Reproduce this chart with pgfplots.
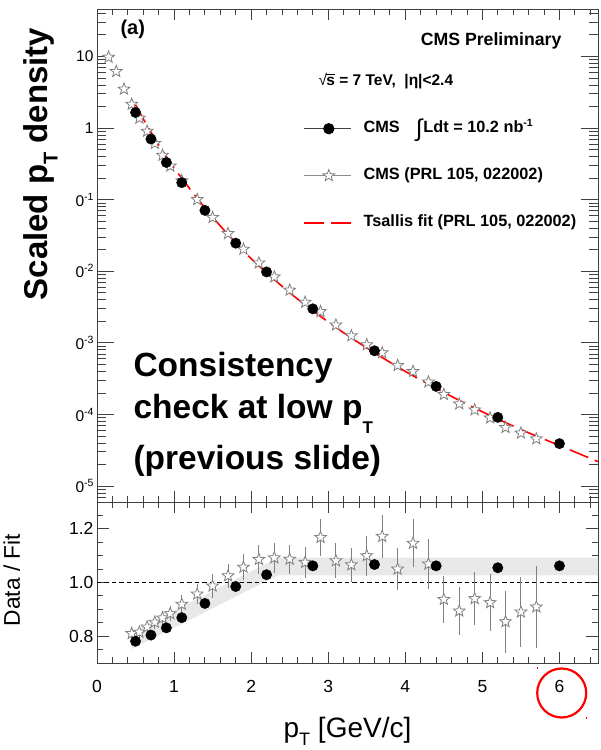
\documentclass[border=0pt]{standalone}
\usepackage{fontspec}
\setmainfont{Liberation Sans}
\usepackage{pgfplots}
\pgfplotsset{compat=1.18}

% font size shortcut (1pt in the drawing = 1px of the final image)
\newcommand{\fs}[1]{\fontsize{#1}{#1}\selectfont}
% raised / lowered small text: {size}{shift}{text}
\newcommand{\up}[3]{\raisebox{#2}{\fs{#1}#3}}
\newcommand{\dn}[3]{\raisebox{-#2}{\fs{#1}#3}}

% open five-pointed star
\pgfdeclareplotmark{ostar}{%
  \pgfpathmoveto{\pgfpointpolar{90}{\pgfplotmarksize}}%
  \pgfpathlineto{\pgfpointpolar{126}{0.42\pgfplotmarksize}}%
  \pgfpathlineto{\pgfpointpolar{162}{\pgfplotmarksize}}%
  \pgfpathlineto{\pgfpointpolar{198}{0.42\pgfplotmarksize}}%
  \pgfpathlineto{\pgfpointpolar{234}{\pgfplotmarksize}}%
  \pgfpathlineto{\pgfpointpolar{270}{0.42\pgfplotmarksize}}%
  \pgfpathlineto{\pgfpointpolar{306}{\pgfplotmarksize}}%
  \pgfpathlineto{\pgfpointpolar{342}{0.42\pgfplotmarksize}}%
  \pgfpathlineto{\pgfpointpolar{18}{\pgfplotmarksize}}%
  \pgfpathlineto{\pgfpointpolar{54}{0.42\pgfplotmarksize}}%
  \pgfpathclose
  \pgfusepathqfillstroke
}

\pgfplotsset{
  /pgf/number format/assume math mode=true,
  rootframe/.style={
    scale only axis, width=501pt,
    xmin=0, xmax=6.5,
    axis line style={black!75, line width=0.9pt},
    tick style={black!75, line width=0.9pt},
    tick align=inside,
    xtick={0,1,2,3,4,5,6},
    minor xtick={0.2,0.4,0.6,0.8,1.2,1.4,1.6,1.8,2.2,2.4,2.6,2.8,3.2,3.4,3.6,3.8,4.2,4.4,4.6,4.8,5.2,5.4,5.6,5.8,6.2,6.4},
    x tick style={/pgfplots/major tick length=11pt,/pgfplots/minor tick length=6pt},
  },
  starmark/.style={mark=ostar, mark size=6.2pt,
    mark options={draw=black!50, fill=white, solid, line width=0.8pt}},
  dotmark/.style={mark=*, mark size=5.2pt, mark options={black, solid}},
  fitline/.style={red, line width=1.6pt, dash pattern=on 20pt off 7pt},
}

\begin{document}
\begin{tikzpicture}
\useasboundingbox (0pt,0pt) rectangle (601pt,750pt);

% ---------------- upper panel: spectra ----------------
\begin{axis}[rootframe,
  at={(97pt,248pt)}, anchor=south west, height=493pt,
  ymode=log, ymin=6e-6, ymax=46,
  xticklabels={},
  ytick={1e-5,1e-4,1e-3,1e-2,1e-1,1,10},
  yticklabels={0\up{10.5}{6pt}{-5},0\up{10.5}{6pt}{-4},0\up{10.5}{6pt}{-3},0\up{10.5}{6pt}{-2},0\up{10.5}{6pt}{-1},1,10},
  minor ytick={7e-6,8e-6,9e-6,
    2e-5,3e-5,4e-5,5e-5,6e-5,7e-5,8e-5,9e-5,
    2e-4,3e-4,4e-4,5e-4,6e-4,7e-4,8e-4,9e-4,
    0.002,0.003,0.004,0.005,0.006,0.007,0.008,0.009,
    0.02,0.03,0.04,0.05,0.06,0.07,0.08,0.09,
    0.2,0.3,0.4,0.5,0.6,0.7,0.8,0.9,
    2,3,4,5,6,7,8,9,20,30,40},
  y tick style={/pgfplots/major tick length=17pt,/pgfplots/minor tick length=9pt},
  yticklabel style={font=\fs{15.5}},
  ylabel={Scaled p\dn{20}{0.32em}{T} density},
  ylabel style={font=\bfseries\fs{33}, at={(axis description cs:-0.0998,0.6856)}, anchor=base},
  legend cell align=left,
  legend image code/.code={\draw[mark repeat=2,mark phase=2] plot coordinates {(0pt,0pt)(25pt,0pt)(47pt,0pt)};},
  legend style={at={(rel axis cs:0.4112,0.7734)}, anchor=north west,
    draw=none, fill=none, inner sep=0pt, outer sep=0pt,
    row sep=31pt, column sep=12pt,
    font=\bfseries\fs{16.3},
    nodes={inner sep=0pt, text height=12pt, text depth=4pt}},
]
\addlegendimage{black!75, line width=0.9pt, dotmark}
\addlegendentry{CMS\hspace{16pt}\raisebox{-4pt}{\fs{24}\mdseries ∫}\kern1pt Ldt = 10.2 nb\up{10.5}{6.5pt}{-1}}
\addlegendimage{black!45, line width=0.9pt, starmark}
\addlegendentry{CMS (PRL 105, 022002)}
\addlegendimage{fitline}
\addlegendentry{Tsallis fit (PRL 105, 022002)}

% Tsallis fit
\addplot[fitline, smooth, forget plot] table {
pt   val
0.5  2.115
0.6  1.350
0.7  0.879
0.8  0.5834
0.9  0.399
1.0  0.2773
1.1  0.1995
1.25 0.1222
1.4  0.0771
1.6  0.04295
1.8  0.02508
2.0  0.01504
2.2  0.00954
2.5  0.005020
2.8  0.002816
3.2  0.001385
3.6  0.000728
4.0  0.000400
4.4  0.0002326
4.8  0.0001389
5.2  0.0000864
5.6  0.00005553
6.0  0.0000369
6.5  0.00002198
};

% CMS (PRL 105, 022002)
\addplot[only marks, starmark, forget plot] table {
pt  val
0.15 9.78
0.25 6.16
0.35 3.50
0.45 2.152
0.55 1.377
0.65 0.903
0.75 0.610
0.85 0.4164
0.95 0.2951
1.1 0.1834
1.3 0.1003
1.5 0.0564
1.7 0.03365
1.9 0.02035
2.1 0.01304
2.3 0.008352
2.5 0.005455
2.7 0.00369
2.9 0.002735
3.1 0.001776
3.3 0.001259
3.5 0.0009408
3.7 0.0007295
3.9 0.0004844
4.1 0.0003993
4.3 0.0002848
4.5 0.0001907
4.7 0.0001407
4.9 0.0001161
5.1 0.00008966
5.3 0.00006577
5.5 0.00005499
5.7 0.00004571
};

% CMS, 10.2 nb^-1
\addplot[only marks, dotmark, forget plot] table {
pt  val
0.5 1.65
0.7 0.703
0.9 0.331
1.1 0.173
1.4 0.0709
1.8 0.0247
2.2 0.0098
2.8 0.00299
3.6 0.000776
4.4 0.000247
5.2 0.0000912
6.0 0.0000392
};
\end{axis}

% ---------------- lower panel: data / fit ----------------
\begin{axis}[rootframe,
  at={(97pt,87pt)}, anchor=south west, height=161pt,
  ymin=0.7, ymax=1.3,
  ytick={0.8,1.0,1.2},
  minor ytick={0.75,0.85,0.9,0.95,1.05,1.1,1.15,1.25},
  y tick style={/pgfplots/major tick length=12pt,/pgfplots/minor tick length=6pt},
  yticklabel={\pgfmathprintnumber[fixed,fixed zerofill,precision=1]{\tick}},
  yticklabel style={font=\fs{17.5}},
  xticklabel style={font=\fs{17.5}, yshift=-14pt},
  xlabel={p\dn{18}{0.3em}{T} [GeV/c]},
  xlabel style={font=\fs{28}, at={(axis description cs:0.5,0)}, anchor=base, yshift=-74pt},
  ylabel={Data / Fit},
  ylabel style={font=\fs{22.7}, at={(axis description cs:-0.1537,0.5155)}, anchor=base},
]
% uncertainty band
\addplot[fill=black!9, draw=none] coordinates {
(0.45,0.752) (2.35,1.027) (6.5,1.027) (6.5,1.093) (2.35,1.093) (0.45,0.815)} -- cycle;

\addplot[black, line width=1.5pt, dash pattern=on 4.5pt off 3pt] coordinates {(0,1) (6.5,1)};

% CMS (PRL 105, 022002): error bars, then markers
\addplot[only marks, mark=none,
  error bars/.cd, y dir=both, y explicit, error mark=none,
  error bar style={draw=black!50, line width=0.9pt, solid}]
  table[x=pt, y=r, y error=e] {
pt  r     e
0.45 0.810 0.022
0.55 0.815 0.022
0.65 0.834 0.023
0.75 0.852 0.024
0.85 0.868 0.025
0.95 0.884 0.027
1.1 0.919 0.035
1.3 0.957 0.038
1.5 0.987 0.045
1.7 1.025 0.045
1.9 1.057 0.048
2.1 1.086 0.054
2.3 1.092 0.057
2.5 1.087 0.054
2.7 1.075 0.058
2.9 1.168 0.069
3.1 1.081 0.066
3.3 1.066 0.064
3.5 1.100 0.075
3.7 1.172 0.079
3.9 1.050 0.078
4.1 1.146 0.089
4.3 1.069 0.094
4.5 0.937 0.089
4.7 0.894 0.088
4.9 0.940 0.100
5.1 0.925 0.106
5.3 0.854 0.116
5.5 0.890 0.132
5.7 0.909 0.153
};
\addplot[only marks, starmark] table {
pt  r
0.45 0.810
0.55 0.815
0.65 0.834
0.75 0.852
0.85 0.868
0.95 0.884
1.1 0.919
1.3 0.957
1.5 0.987
1.7 1.025
1.9 1.057
2.1 1.086
2.3 1.092
2.5 1.087
2.7 1.075
2.9 1.168
3.1 1.081
3.3 1.066
3.5 1.100
3.7 1.172
3.9 1.050
4.1 1.146
4.3 1.069
4.5 0.937
4.7 0.894
4.9 0.940
5.1 0.925
5.3 0.854
5.5 0.890
5.7 0.909
};
% CMS, 10.2 nb^-1
\addplot[only marks, dotmark] table {
pt  r
0.5 0.781
0.7 0.804
0.9 0.831
1.1 0.869
1.4 0.922
1.8 0.985
2.2 1.029
2.8 1.062
3.6 1.067
4.4 1.062
5.2 1.055
6.0 1.062
};
\end{axis}

% ---------------- annotations ----------------
\node[anchor=base west, font=\bfseries\fs{20}] at (117pt,715.7pt) {(a)};
\node[anchor=base east, font=\bfseries\fs{17.7}] at (565pt,704.5pt) {CMS Preliminary};
\node[anchor=base west, font=\bfseries\fs{15.5}] at (315pt,664pt)
  {{\mdseries √}\kern-0.6pt\rlap{\rule[11.6pt]{8.6pt}{0.8pt}}s = 7 TeV,\ \ |η|<2.4};

\node[anchor=base west, font=\bfseries\fs{33.5}] at (130pt,373.3pt) {Consistency};
\node[anchor=base west, font=\bfseries\fs{33.5}] at (130pt,331.7pt) {check at low p\dn{17}{0.45em}{T}};
\node[anchor=base west, font=\bfseries\fs{33.5}] at (130pt,280pt) {(previous slide)};

\draw[red, line width=2.2pt] (561.7pt,57pt) circle (24.5pt);
\fill[red] (536.8pt,80.5pt) rectangle ++(1.2pt,2.5pt);
\fill[red] (586.2pt,31pt) rectangle ++(1.2pt,2pt);
\end{tikzpicture}
\end{document}
